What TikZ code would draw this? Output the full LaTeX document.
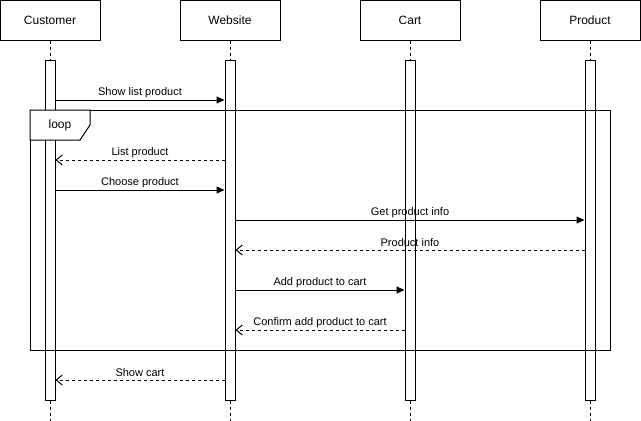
\documentclass[tikz,border=0pt]{standalone}
\usepackage{fontspec}
\setmainfont{Liberation Sans}
\usetikzlibrary{arrows.meta,calc}
\begin{document}
\begin{tikzpicture}[x=1pt,y=-1pt,line width=1pt,
  head/.style={draw,fill=white,minimum width=100pt,minimum height=40pt,inner sep=0pt,font=\fontsize{12}{14}\selectfont},
  bar/.style={draw,fill=white,minimum width=10pt,minimum height=340pt,inner sep=0pt},
  life/.style={dash pattern=on 3pt off 3pt},
  msg/.style={-{Triangle[length=8pt,width=7pt]}},
  ret/.style={dash pattern=on 3pt off 3pt,-{Straight Barb[length=6pt,width=10pt]}},
  lbl/.style={midway,yshift=7pt,font=\fontsize{11}{13}\selectfont,inner sep=0pt},
  frame/.style={draw},
  tag/.style={draw,fill=white}]
\useasboundingbox (0,0) rectangle (641,421);
% heads
\node[head] (hC) at (50,20) {Customer};
\node[head] (hW) at (230,20) {Website};
\node[head] (hK) at (410,20) {Cart};
\node[head] (hP) at (590,20) {Product};
% lifeline ends
\coordinate (eC) at (50,421);
\coordinate (eW) at (230,421);
\coordinate (eK) at (410,421);
\coordinate (eP) at (590,421);
\draw[life] (hC.south) -- (eC);
\draw[life] (hW.south) -- (eW);
\draw[life] (hK.south) -- (eK);
\draw[life] (hP.south) -- (eP);
% activation bars
\node[bar] (bC) at (50,230) {};
\node[bar] (bW) at (230,230) {};
\node[bar] (bK) at (410,230) {};
\node[bar] (bP) at (590,230) {};
% loop frame
\coordinate (fA) at (30,110);
\coordinate (fB) at (610,350);
\draw[frame] (fA) rectangle (fB);
\draw[tag] (30,110) -- (90,110) -- (90,125) -- (80,140) -- (30,140) -- cycle;
\node[font=\fontsize{12}{14}\selectfont,inner sep=0pt] (loopT) at (60,125) {loop};
% message rows
\coordinate (m1) at (0,100);
\coordinate (m2) at (0,160);
\coordinate (m3) at (0,190);
\coordinate (m4) at (0,220);
\coordinate (m5) at (0,250);
\coordinate (m6) at (0,290);
\coordinate (m7) at (0,330);
\coordinate (m8) at (0,380);
\draw[msg] (bC.east |- m1) -- node[lbl] {Show list product} (bW.west |- m1);
\draw[ret] (bW.west |- m2) -- node[lbl] {List product} (bC.east |- m2);
\draw[msg] (bC.east |- m3) -- node[lbl] {Choose product} (bW.west |- m3);
\draw[msg] (bW.east |- m4) -- node[lbl] {Get product info} (bP.west |- m4);
\draw[ret] (bP.west |- m5) -- node[lbl] {Product info} (bW.east |- m5);
\draw[msg] (bW.east |- m6) -- node[lbl] {Add product to cart} (bK.west |- m6);
\draw[ret] (bK.west |- m7) -- node[lbl] {Confirm add product to cart} (bW.east |- m7);
\draw[ret] (bW.west |- m8) -- node[lbl] {Show cart} (bC.east |- m8);
\end{tikzpicture}
\end{document}
